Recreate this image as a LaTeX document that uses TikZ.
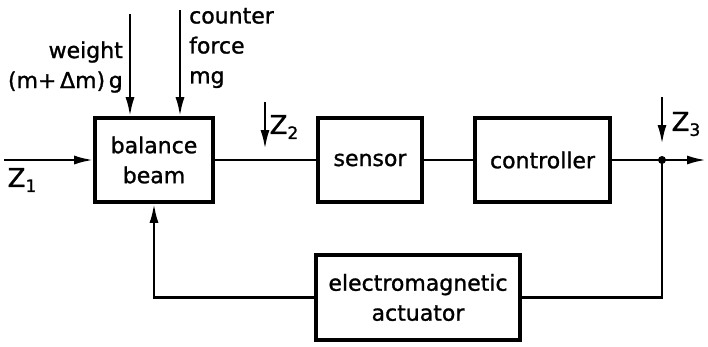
\documentclass[tikz,border=0pt]{standalone}
\usepackage{fontspec}
\setmainfont[BoldFont={DejaVu Sans},BoldFeatures={FakeBold=1.2}]{DejaVu Sans}
\usetikzlibrary{arrows.meta}
\newcommand{\zlab}[1]{Z\raisebox{-0.35ex}{\fontsize{17}{17}\selectfont\bfseries #1}}
\begin{document}
\begin{tikzpicture}[x=1pt,y=-1pt,
  blk/.style={draw,line width=3.6pt,inner sep=0pt,align=center,
    font=\fontsize{22}{30}\selectfont\bfseries},
  conn/.style={line width=2.4pt},
  arr/.style={conn,-{Latex[length=19pt,width=9pt]}},
  lab/.style={inner sep=0pt,font=\fontsize{22}{30}\selectfont\bfseries},
  zl/.style={inner sep=0pt,font=\fontsize{26}{26}\selectfont\bfseries}]
\useasboundingbox (0,0) rectangle (708,346);
% blocks
\node[blk,minimum width=118pt,minimum height=84pt] (bal) at (154,160) {balance\\beam};
\node[blk,minimum width=104pt,minimum height=84pt] (sens) at (370,160) {sensor};
\node[blk,minimum width=135pt,minimum height=84pt] (ctrl) at (542.5,160) {controller};
\node[blk,minimum width=204pt,minimum height=85pt] (act) at (418,297.5) {electromagnetic\\actuator};
% coordinates
\coordinate (zin) at (4,160);
\coordinate (wtop) at (130,14);
\coordinate (ctop) at (180,10);
\coordinate (z2top) at (265,102);
\coordinate (z2tip) at (265,149);
\coordinate (j) at (662,160);
\coordinate (z3top) at (662,97);
\coordinate (z3tip) at (662,144);
\coordinate (out) at (706,160);
% connectors
\draw[arr] (zin) -- (bal.west);
\draw[arr] (wtop) -- (wtop |- bal.north);
\draw[arr] (ctop) -- (ctop |- bal.north);
\draw[conn] (bal.east) -- (sens.west);
\draw[conn] (sens.east) -- (ctrl.west);
\draw[arr] (ctrl.east) -- (out);
\draw[arr] (z2top) -- (z2tip);
\draw[arr] (z3top) -- (z3tip);
\draw[conn] (j) |- (act.east);
\draw[arr] (act.west) -| (bal.south);
\fill (j) circle (4pt);
% labels
\node[lab,anchor=east,align=right] (wlab) at (123,67) {weight\\(m+\,Δm)\,g};
\node[lab,anchor=west,align=left] (clab) at (189,48) {counter\\force\\mg};
\node[zl] (z1) at (22,180) {\zlab{1}};
\node[zl] (z2) at (284,127) {\zlab{2}};
\node[zl] (z3) at (686,124) {\zlab{3}};
\end{tikzpicture}
\end{document}
